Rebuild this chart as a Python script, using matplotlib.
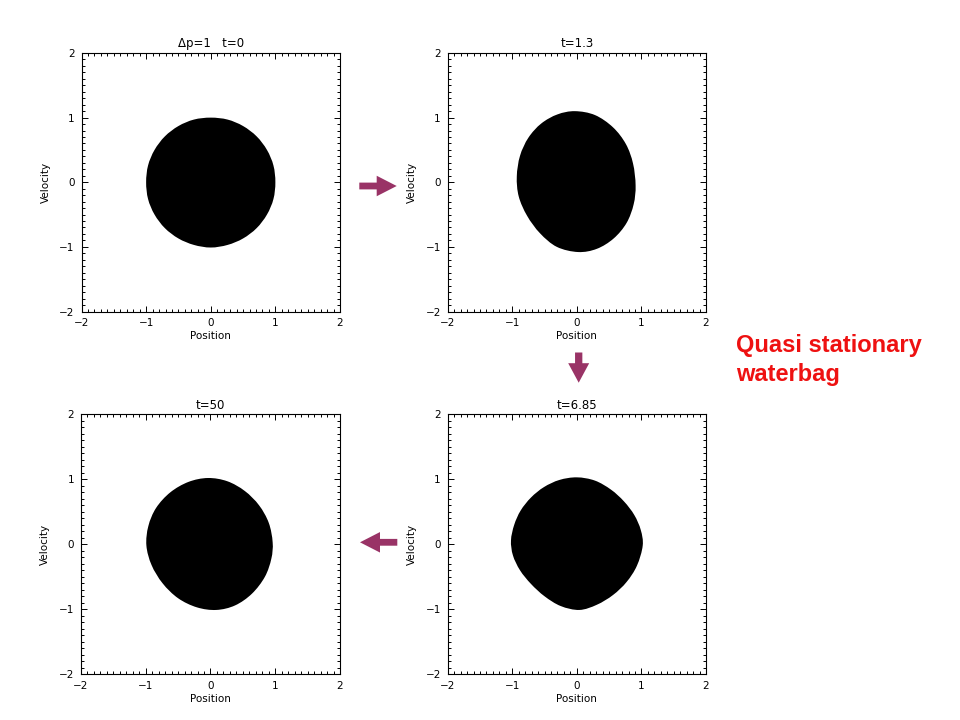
import matplotlib
matplotlib.use("Agg")
import matplotlib.pyplot as plt
import numpy as np
from matplotlib.patches import FancyArrow, PathPatch
from matplotlib.path import Path
from matplotlib.ticker import MultipleLocator

# ---- data ----
titles = ["\u0394p=1   t=0", "t=1.3", "t=6.85", "t=50"]
tick_values = [-2, -1, 0, 1, 2]
tick_labels = ["\u22122", "\u22121", "0", "1", "2"]
xlabel = "Position"
ylabel = "Velocity"
note_lines = ["Quasi stationary", "waterbag"]

# boundary of the waterbag in phase space, t = 0
shape_t0_x = [1.00, 0.97, 0.87, 0.71, 0.50, 0.26, 0.00, -0.26, -0.50, -0.71, -0.87, -0.97,
              -1.00, -0.97, -0.87, -0.71, -0.50, -0.26, 0.00, 0.26, 0.50, 0.71, 0.87, 0.97]
shape_t0_y = [0.00, 0.26, 0.50, 0.71, 0.87, 0.97, 1.00, 0.97, 0.87, 0.71, 0.50, 0.26,
              0.00, -0.26, -0.50, -0.71, -0.87, -0.97, -1.01, -0.97, -0.87, -0.71, -0.50, -0.26]

# t = 1.3
shape_t13_x = [0.91, 0.87, 0.76, 0.56, 0.28, -0.03, -0.30, -0.55, -0.75, -0.88,
               -0.93, -0.90, -0.77, -0.57, -0.31, 0.02, 0.31, 0.57, 0.77, 0.88]
shape_t13_y = [-0.05, 0.29, 0.59, 0.85, 1.04, 1.10, 1.05, 0.91, 0.69, 0.41,
               0.09, -0.22, -0.52, -0.79, -1.00, -1.08, -1.03, -0.87, -0.63, -0.34]

# t = 6.85
shape_t685_x = [1.02, 0.99, 0.89, 0.73, 0.53, 0.28, 0.00, -0.27, -0.51, -0.71, -0.87, -0.97,
                -1.02, -0.99, -0.88, -0.71, -0.50, -0.25, 0.04, 0.31, 0.56, 0.77, 0.93]
shape_t685_y = [-0.02, 0.22, 0.45, 0.66, 0.84, 0.98, 1.03, 0.99, 0.88, 0.72, 0.52, 0.30,
                0.06, -0.17, -0.40, -0.61, -0.80, -0.95, -1.01, -0.93, -0.78, -0.58, -0.33]

# t = 50
shape_t50_x = [0.96, 0.90, 0.75, 0.53, 0.26, -0.04, -0.34, -0.62, -0.84, -0.96,
               -0.99, -0.91, -0.74, -0.50, -0.21, 0.09, 0.38, 0.64, 0.84, 0.94]
shape_t50_y = [0.03, 0.33, 0.60, 0.82, 0.97, 1.02, 0.96, 0.80, 0.56, 0.28,
               -0.02, -0.32, -0.60, -0.83, -0.97, -1.01, -0.94, -0.76, -0.50, -0.22]

shapes = [(shape_t0_x, shape_t0_y), (shape_t13_x, shape_t13_y),
          (shape_t685_x, shape_t685_y), (shape_t50_x, shape_t50_y)]


def smooth_closed_path(xs, ys):
    """Closed Bezier path running through every boundary point."""
    p = np.column_stack([xs, ys]).astype(float)
    n = len(p)
    verts = [p[0]]
    codes = [Path.MOVETO]
    for i in range(n):
        p0, p1, p2, p3 = p[i - 1], p[i], p[(i + 1) % n], p[(i + 2) % n]
        verts += [p1 + (p2 - p0) / 6.0, p2 - (p3 - p1) / 6.0, p2]
        codes += [Path.CURVE4] * 3
    verts.append(p[0])
    codes.append(Path.CLOSEPOLY)
    return Path(np.array(verts), codes)


# ---- figure ----
W, H = 960, 720
fig = plt.figure(figsize=(9.6, 7.2), dpi=100)
plt.rcParams['font.family'] = ['DejaVu Sans']

def frac(px_left, px_top, px_right, px_bottom):
    return [px_left / W, 1 - px_bottom / H, (px_right - px_left) / W, (px_bottom - px_top) / H]

rects = [frac(81.5, 53.0, 340.0, 311.5),
         frac(447.7, 53.0, 706.0, 311.5),
         frac(447.7, 414.3, 706.0, 674.3),
         frac(81.0, 414.3, 340.0, 674.3)]

for (sx, sy), title, rect in zip(shapes, titles, rects):
    ax = fig.add_axes(rect)
    ax.add_patch(PathPatch(smooth_closed_path(sx, sy), facecolor="black",
                           edgecolor="none", lw=0))
    ax.set_xlim(-2, 2)
    ax.set_ylim(-2, 2)
    ax.set_xticks(tick_values)
    ax.set_xticklabels(tick_labels)
    ax.set_yticks(tick_values)
    ax.set_yticklabels(tick_labels)
    ax.xaxis.set_minor_locator(MultipleLocator(0.1))
    ax.yaxis.set_minor_locator(MultipleLocator(0.1))
    ax.tick_params(which="both", direction="in", top=True, right=True,
                   width=0.7, colors="black", labelsize=7.5, pad=5)
    ax.tick_params(which="major", length=4.5)
    ax.tick_params(which="minor", length=2.2)
    for sp in ax.spines.values():
        sp.set_linewidth(0.8)
    ax.set_xlabel(xlabel, fontsize=7.5, labelpad=2)
    ax.set_ylabel(ylabel, fontsize=7.5, labelpad=6)
    ax.set_title(title, fontsize=8.5, pad=4)

# ---- arrows (figure pixel coordinates) ----
arrow_color = "#993366"
def px_arrow(x0, y0, x1, y1, shaft, head_w, head_l):
    tr = fig.dpi_scale_trans
    a = FancyArrow(x0 / 100, (H - y0) / 100, (x1 - x0) / 100, -(y1 - y0) / 100,
                   width=shaft / 100, head_width=head_w / 100, head_length=head_l / 100,
                   length_includes_head=True, color=arrow_color, lw=0, transform=tr)
    fig.add_artist(a)

px_arrow(359.3, 186.0, 396.7, 186.0, 6.8, 20.5, 20.0)
px_arrow(578.7, 352.5, 578.7, 382.7, 7.3, 21.0, 19.5)
px_arrow(397.3, 542.3, 360.0, 542.3, 6.8, 20.5, 20.0)

# ---- annotation ----
for line, base_px in zip(note_lines, [351.7, 380.5]):
    fig.text(736.0 / W, 1 - base_px / H, line, color="#ee1111",
             fontsize=17, fontweight="bold", family=["Liberation Sans", "DejaVu Sans"],
             ha="left", va="baseline")

fig.savefig("out.png", dpi=100, facecolor="white")
